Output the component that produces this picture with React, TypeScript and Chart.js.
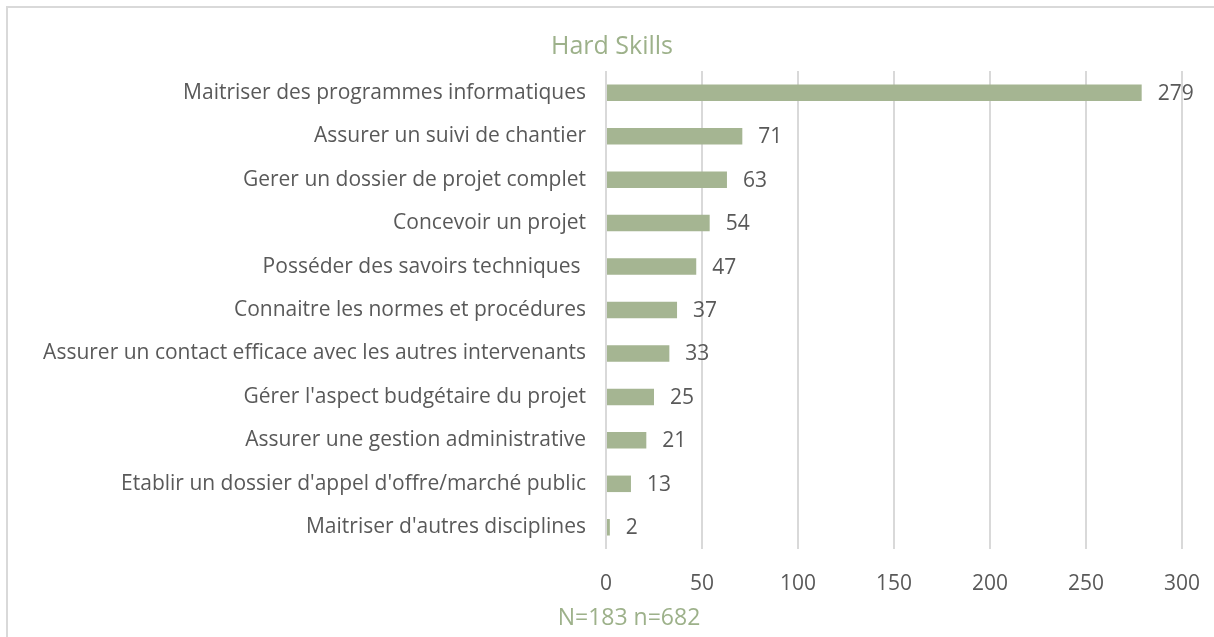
import React, { useEffect, useRef } from "react";
import { Chart, registerables } from "chart.js";

Chart.register(...registerables);

const categories = [
  "Maitriser des programmes informatiques",
  "Assurer un suivi de chantier",
  "Gerer un dossier de projet complet",
  "Concevoir un projet",
  "Posséder des savoirs techniques ",
  "Connaitre les normes et procédures",
  "Assurer un contact efficace avec les autres intervenants",
  "Gérer l'aspect budgétaire du projet",
  "Assurer une gestion administrative",
  "Etablir un dossier d'appel d'offre/marché public",
  "Maitriser d'autres disciplines",
];
const values = [279, 71, 63, 54, 47, 37, 33, 25, 21, 13, 2];
const xTicks = [0, 50, 100, 150, 200, 250, 300];
const titleText = "Hard Skills";
const footerText = "N=183 n=682";

const FONT = "'Open Sans', Lato, sans-serif";
const TEXT = "#595959";
const GREEN = "#A5B592";
const TITLE_GREEN = "#9DB18A";

const valueLabels = {
  id: "valueLabels",
  afterDatasetsDraw(chart: any) {
    const { ctx } = chart;
    const meta = chart.getDatasetMeta(0);
    ctx.save();
    ctx.font = `21px ${FONT}`;
    ctx.fillStyle = TEXT;
    ctx.textAlign = "left";
    ctx.textBaseline = "middle";
    meta.data.forEach((bar: any, i: number) => {
      ctx.fillText(String(values[i]), bar.x + 16, bar.y + 1);
    });
    ctx.restore();
  },
};

const footer = {
  id: "footer",
  afterDraw(chart: any) {
    const { ctx, chartArea } = chart;
    ctx.save();
    ctx.font = `23px ${FONT}`;
    ctx.fillStyle = TITLE_GREEN;
    ctx.textAlign = "center";
    ctx.textBaseline = "middle";
    ctx.fillText(footerText, chartArea.left + 23, chartArea.bottom + 69);
    ctx.restore();
  },
};

export default function App() {
  const ref = useRef<HTMLCanvasElement>(null);
  useEffect(() => {
    const chart = new Chart(ref.current!, {
      type: "bar",
      data: {
        labels: categories,
        datasets: [
          {
            data: values,
            backgroundColor: GREEN,
            barPercentage: 0.38,
            categoryPercentage: 1,
          },
        ],
      },
      options: {
        indexAxis: "y",
        animation: false,
        responsive: false,
        layout: { padding: { left: 42, right: 32, top: 0, bottom: 0 } },
        plugins: {
          legend: { display: false },
          tooltip: { enabled: false },
          title: {
            display: true,
            text: titleText,
            color: TITLE_GREEN,
            font: { family: FONT, size: 25, weight: "normal", lineHeight: 1.2 },
            padding: { top: 32, bottom: 9 },
          },
        },
        scales: {
          x: {
            min: 0,
            max: 300,
            afterBuildTicks: (s: any) => {
              s.ticks = xTicks.map((v) => ({ value: v }));
            },
            afterFit: (s: any) => {
              s.height = 88;
              s.paddingLeft = 0;
              s.paddingRight = 0;
            },
            grid: { color: "#D9D9D9", lineWidth: 2, drawTicks: false },
            border: { display: false },
            ticks: {
              color: TEXT,
              font: { family: FONT, size: 21 },
              padding: 22,
            },
          },
          y: {
            afterFit: (s: any) => {
              s.width = 564;
              s.paddingTop = 0;
              s.paddingBottom = 0;
            },
            grid: { display: false, drawTicks: false },
            border: { display: false },
            ticks: {
              color: TEXT,
              font: { family: FONT, size: 21 },
              padding: 20,
              autoSkip: false,
            },
          },
        },
      },
      plugins: [valueLabels, footer],
    });
    return () => chart.destroy();
  }, []);
  return (
    <div style={{ position: "fixed", left: 0, top: 0, width: 1214, height: 637, background: "#fff", overflow: "hidden" }}>
      <div
        style={{
          position: "absolute",
          left: 6,
          top: 6,
          width: 1230,
          height: 660,
          border: "2px solid #D9D9D9",
          boxSizing: "border-box",
        }}
      />
      <canvas ref={ref} width={1214} height={637} style={{ position: "absolute", left: 0, top: 0 }} />
    </div>
  );
}
